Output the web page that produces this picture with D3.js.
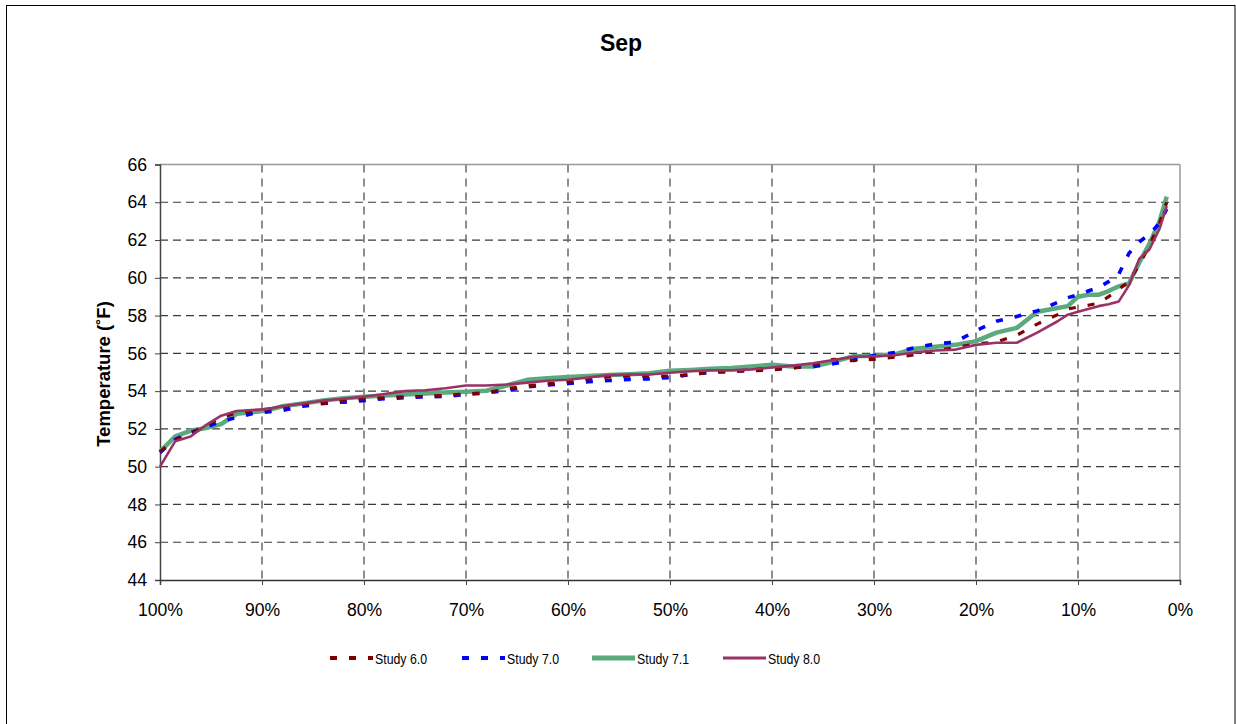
<!DOCTYPE html>
<html><head><meta charset="utf-8">
<script src="https://cdn.jsdelivr.net/npm/d3@7"></script>
<style>body{margin:0;background:#fff}svg{display:block}text{font-family:"Liberation Sans",Arial,sans-serif}</style>
</head><body>
<svg id="c" width="1236" height="724"></svg>
<script>
const percentiles = [100,98.5,97,95.5,94,92.5,91,89.5,88,86,84,82,80,78,76,74,72,70,68,66,64,62,60,58,56,54,52,50,48,46,44,42,40,38,36,34,32,30,28,26,24,22,20,18,16,14,12,11,10,9,8,7,6,5,4,3,2,1.3];
const study60 = [50.8,51.4,51.75,52.2,52.6,52.85,52.95,53.05,53.15,53.3,53.35,53.5,53.6,53.65,53.7,53.72,53.78,53.85,53.92,54.12,54.28,54.38,54.5,54.65,54.75,54.8,54.8,54.8,54.88,55.0,55.05,55.07,55.12,55.2,55.4,55.68,55.62,55.68,55.8,55.92,56.15,56.3,56.5,56.6,56.96,57.55,58.05,58.35,58.45,58.55,58.65,59.0,59.4,59.8,60.7,61.7,62.9,64.0];
const study70 = [50.75,51.45,51.8,52.1,52.4,52.6,52.8,52.9,52.98,53.2,53.35,53.42,53.5,53.6,53.65,53.7,53.72,53.82,53.9,54.05,54.23,54.33,54.4,54.5,54.56,54.62,54.65,54.72,54.88,55.0,55.04,55.12,55.23,55.27,55.3,55.45,55.65,55.88,56.05,56.3,56.5,56.6,57.2,57.7,57.95,58.25,58.7,58.95,59.1,59.3,59.48,59.8,60.2,61.3,61.9,62.3,62.9,63.65];
const study71 = [50.8,51.6,51.9,52.05,52.25,52.8,52.88,52.98,53.2,53.35,53.5,53.62,53.7,53.77,53.82,53.88,53.93,53.97,54.02,54.3,54.6,54.68,54.75,54.8,54.85,54.9,54.95,55.08,55.12,55.18,55.22,55.3,55.4,55.3,55.3,55.55,55.85,55.88,55.95,56.25,56.35,56.45,56.65,57.1,57.35,58.2,58.4,58.5,59.0,59.1,59.1,59.3,59.55,59.7,60.8,61.8,63.0,64.3];
const study80 = [50.0,51.35,51.6,52.2,52.7,52.95,53.0,53.05,53.2,53.35,53.5,53.6,53.7,53.85,54.0,54.05,54.15,54.3,54.3,54.35,54.45,54.55,54.6,54.72,54.85,54.88,54.88,54.97,55.05,55.1,55.1,55.15,55.25,55.35,55.48,55.65,55.82,55.85,55.9,56.05,56.15,56.2,56.45,56.56,56.56,57.1,57.7,58.05,58.2,58.35,58.5,58.6,58.75,59.6,61.0,61.5,62.6,63.8];
const yTicks = [44,46,48,50,52,54,56,58,60,62,64,66];
const xTicks = [100,90,80,70,60,50,40,30,20,10,0];
const seriesNames = ["Study 6.0","Study 7.0","Study 7.1","Study 8.0"];

const svg = d3.select("#c");
const L=160,R=1180,T=164.5,B=580;
const x = d3.scaleLinear().domain([100,0]).range([L,R]);
const y = d3.scaleLinear().domain([44,66]).range([B,T]);

svg.append("rect").attr("x",6.5).attr("y",5.5).attr("width",1228.5).attr("height",740).attr("fill","none").attr("stroke","#000").attr("stroke-width",1);

svg.append("text").attr("x",621).attr("y",51).attr("text-anchor","middle").attr("font-size",23).attr("font-weight","bold").text("Sep");

// gridlines
svg.append("g").selectAll("line").data(yTicks.filter(d=>d>44&&d<66)).join("line")
  .attr("x1",L).attr("x2",R).attr("y1",d=>y(d)).attr("y2",d=>y(d))
  .attr("stroke","#3a3a3a").attr("stroke-width",1.2).attr("stroke-dasharray","8,5");
svg.append("g").selectAll("line").data(xTicks.filter(d=>d>0&&d<100)).join("line")
  .attr("x1",d=>x(d)).attr("x2",d=>x(d)).attr("y1",T).attr("y2",B)
  .attr("stroke","#6a6a6a").attr("stroke-width",1.5).attr("stroke-dasharray","8,6");
// border top/right
svg.append("line").attr("x1",L).attr("x2",R).attr("y1",T).attr("y2",T).attr("stroke","#999").attr("stroke-width",1.5);
svg.append("line").attr("x1",R).attr("x2",R).attr("y1",T).attr("y2",B).attr("stroke","#999").attr("stroke-width",1.5);

// axes
const yAxis = d3.axisLeft(y).tickValues(yTicks).tickSize(5).tickPadding(8);
const gy = svg.append("g").attr("transform",`translate(${L},0)`).call(yAxis);
gy.select(".domain").attr("stroke","#444").attr("stroke-width",1.5);
gy.selectAll(".tick line").attr("stroke","#444");
gy.selectAll("text").attr("font-size",17.6).attr("fill","#000").style("font-family","Liberation Sans, Arial, sans-serif");
const xAxis = d3.axisBottom(x).tickValues(xTicks).tickSize(5).tickPadding(19).tickFormat(d=>d+"%");
const gx = svg.append("g").attr("transform",`translate(0,${B})`).call(xAxis);
gx.select(".domain").attr("stroke","#333").attr("stroke-width",1.5);
gx.selectAll(".tick line").attr("stroke","#444");
gx.selectAll("text").attr("font-size",17.6).attr("fill","#000").style("font-family","Liberation Sans, Arial, sans-serif");

svg.append("text").attr("transform",`translate(110,${374}) rotate(-90)`).attr("text-anchor","middle")
  .attr("font-size",18.5).attr("font-weight","bold").text("Temperature (˚F)");

const styles = [
  {data:study60,color:"#800000",w:3.2,dash:"7,12"},
  {data:study70,color:"#0000ff",w:3.6,dash:"7,12"},
  {data:study71,color:"#5aaa7d",w:4.5,dash:null},
  {data:study80,color:"#993366",w:2.6,dash:null}
];
const line = d3.line().x((d,i)=>x(percentiles[i])).y(d=>y(d));
const order=[2,1,0,3];
order.forEach(k=>{
  const s=styles[k];
  svg.append("path").datum(s.data).attr("d",line).attr("fill","none")
    .attr("stroke",s.color).attr("stroke-width",s.w).attr("stroke-linejoin","round")
    .attr("stroke-dasharray",s.dash);
});

// legend
const lx=[330,462,592,723];
seriesNames.forEach((n,i)=>{
  const s=styles[i];
  svg.append("line").attr("x1",lx[i]).attr("x2",lx[i]+43).attr("y1",658).attr("y2",658)
    .attr("stroke",s.color).attr("stroke-width",i===2?5:(i===3?3:4)).attr("stroke-dasharray",s.dash);
  svg.append("text").attr("x",lx[i]+45).attr("y",664).attr("font-size",14.5)
    .attr("textLength",52).attr("lengthAdjust","spacingAndGlyphs").text(n);
});
</script>
</body></html>
